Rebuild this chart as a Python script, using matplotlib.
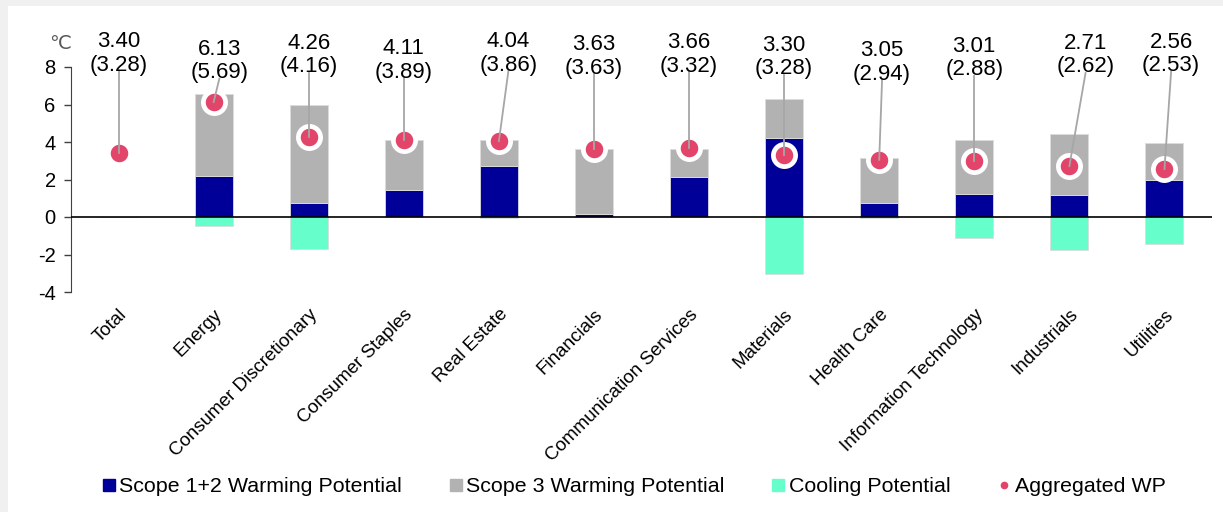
import matplotlib.pyplot as plt
from matplotlib.patches import Rectangle
from matplotlib.lines import Line2D
import numpy as np

plt.rcParams['font.family'] = ['Liberation Sans', 'DejaVu Sans']
plt.rcParams['axes.unicode_minus'] = False

sectors = ["Total", "Energy", "Consumer Discretionary", "Consumer Staples",
           "Real Estate", "Financials", "Communication Services", "Materials",
           "Health Care", "Information Technology", "Industrials", "Utilities"]
scope12 = [0, 2.19, 0.73, 1.44, 2.72, 0.18, 2.15, 4.23, 0.76, 1.23, 1.17, 1.99]
scope3 = [0, 4.37, 5.22, 2.66, 1.38, 3.43, 1.46, 2.06, 2.37, 2.86, 3.27, 1.96]
cooling = [0, -0.46, -1.72, -0.02, -0.03, -0.01, -0.01, -3.04, -0.04, -1.12, -1.76, -1.42]
aggregated = [3.40, 6.13, 4.26, 4.11, 4.04, 3.63, 3.66, 3.30, 3.05, 3.01, 2.71, 2.56]
aggregated_prev = [3.28, 5.69, 4.16, 3.89, 3.86, 3.63, 3.32, 3.28, 2.94, 2.88, 2.62, 2.53]

# where each value label sits (x shift in categories, y in degrees)
label_dx = [0, 0.06, 0, 0, 0.1, 0, 0, 0, 0.03, 0, 0.17, 0.07]
label_y = [8.72, 8.32, 8.64, 8.35, 8.73, 8.56, 8.66, 8.52, 8.24, 8.48, 8.63, 8.70]

c_blue = "#000099"
c_grey = "#b2b2b2"
c_cool = "#66ffcc"
c_dot = "#e3446a"

fig = plt.figure(figsize=(12.23, 5.12), dpi=100, facecolor="#f0f0f0")
fig.patches.append(Rectangle((8 / 1223, 0), 1, 1 - 6 / 512, transform=fig.transFigure,
                             facecolor="white", edgecolor="none", zorder=-1))
ax = fig.add_axes([71 / 1223, 1 - 292 / 512, (1212 - 71) / 1223, (292 - 67) / 512])
ax.set_facecolor("none")

x = np.arange(len(sectors))
w = 0.4
ax.bar(x, scope12, w, color=c_blue, edgecolor="#dcdcdc", linewidth=0.6, zorder=2)
ax.bar(x, scope3, w, bottom=scope12, color=c_grey, edgecolor="#dcdcdc", linewidth=0.6, zorder=2)
ax.bar(x, cooling, w, color=c_cool, edgecolor="#dcdcdc", linewidth=0.6, zorder=2)
ax.axhline(0, color="black", lw=1.2, zorder=3)

ax.plot(x, aggregated, "o", ms=16, mfc=c_dot, mec="white", mew=3.4, zorder=4)

for i in range(len(sectors)):
    lx = x[i] + label_dx[i]
    ly = label_y[i]
    ax.text(lx, ly, f"{aggregated[i]:.2f}\n({aggregated_prev[i]:.2f})", ha="center",
            va="center", fontsize=16, linespacing=1.15, clip_on=False, zorder=6)
    ax.plot([lx, x[i]], [ly - 0.95, aggregated[i]], color="#a6a6a6", lw=1.3,
            clip_on=False, zorder=5)

ax.set_xlim(-0.5, 11.5)
ax.set_ylim(-4, 8)
ax.set_yticks(range(-4, 9, 2))
ax.set_xticks(x)
ax.set_xticklabels(sectors, rotation=45, ha="right", rotation_mode="anchor", fontsize=13.5)
ax.tick_params(axis="x", length=0, pad=10)
ax.tick_params(axis="y", direction="out", length=5, width=1, color="#404040",
               labelsize=14.5, pad=6)
for s in ["top", "right", "bottom"]:
    ax.spines[s].set_visible(False)
ax.spines["left"].set_color("#404040")
ax.text(-0.01, 1.10, "\u2103", transform=ax.transAxes, ha="center", va="center",
        fontsize=14, color="#595959")

handles = [
    Line2D([], [], marker="s", ls="none", color=c_blue, ms=8),
    Line2D([], [], marker="s", ls="none", color=c_grey, ms=8),
    Line2D([], [], marker="s", ls="none", color=c_cool, ms=8),
    Line2D([], [], marker="o", ls="none", color=c_dot, ms=4.5),
]
fig.legend(handles, ["Scope 1+2 Warming Potential", "Scope 3 Warming Potential",
                     "Cooling Potential", "Aggregated WP"],
           loc="center", bbox_to_anchor=(634 / 1223, 1 - 487 / 512), ncol=4, frameon=False,
           fontsize=15.4, handlelength=0.6, handletextpad=0.2, columnspacing=2.2)

fig.savefig("out.png", dpi=100, facecolor=fig.get_facecolor())
